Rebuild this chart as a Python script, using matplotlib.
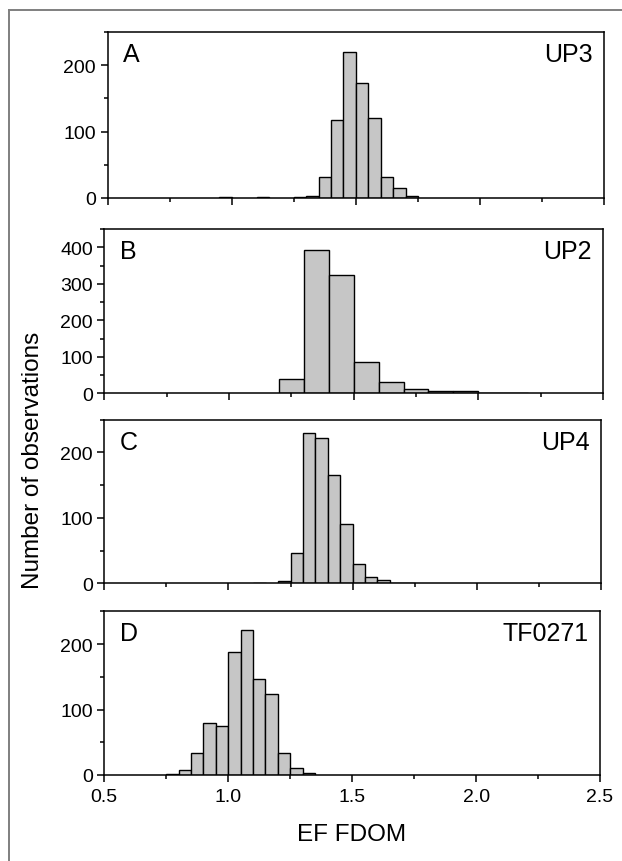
import matplotlib
matplotlib.use("Agg")
import matplotlib.pyplot as plt
from matplotlib.ticker import MultipleLocator
from matplotlib.lines import Line2D

plt.rcParams['font.family'] = ['Liberation Sans', 'DejaVu Sans']

# ---- data (bin left edges, bin widths, counts) ----
edges_A = [0.95, 1.10, 1.25, 1.30, 1.35, 1.40, 1.45, 1.50, 1.55, 1.60, 1.65, 1.70]
counts_A = [1, 1, 1, 2, 31, 117, 220, 173, 121, 31, 14, 3]
width_A = 0.05

edges_B = [1.2, 1.3, 1.4, 1.5, 1.6, 1.7, 1.8, 1.9, 2.0, 2.1]
counts_B = [38, 393, 323, 87, 30, 11, 5, 5, 1, 1]
width_B = 0.1

edges_C = [1.10, 1.20, 1.25, 1.30, 1.35, 1.40, 1.45, 1.50, 1.55, 1.60, 1.65, 1.70]
counts_C = [1, 3, 47, 230, 222, 165, 91, 29, 9, 5, 1, 1]
width_C = 0.05

edges_D = [0.75, 0.80, 0.85, 0.90, 0.95, 1.00, 1.05, 1.10, 1.15, 1.20, 1.25, 1.30]
counts_D = [2, 7, 33, 79, 75, 188, 221, 146, 123, 33, 11, 3]
width_D = 0.05

panel_letters = ["A", "B", "C", "D"]
site_names = ["UP3", "UP2", "UP4", "TF0271"]
y_max = [250, 450, 250, 250]
x_ticks = [0.5, 1.0, 1.5, 2.0, 2.5]
x_label = "EF FDOM"
y_label = "Number of observations"

W, H = 622, 862
fig = plt.figure(figsize=(W / 100, H / 100), dpi=100)

# axes boxes in pixels: left, right, top, bottom
boxes = [
    (107.5, 604.3, 33.3, 198.7),
    (104.3, 603.0, 230.0, 394.3),
    (104.3, 601.0, 420.7, 584.3),
    (104.3, 600.0, 612.3, 776.0),
]

data = [(edges_A, counts_A, width_A), (edges_B, counts_B, width_B),
        (edges_C, counts_C, width_C), (edges_D, counts_D, width_D)]

for i, ((l, r, t, b), (ed, ct, w)) in enumerate(zip(boxes, data)):
    ax = fig.add_axes([l / W, 1 - b / H, (r - l) / W, (b - t) / H])
    ax.bar(ed, ct, width=w, align='edge', color='#c6c6c6',
           edgecolor='black', linewidth=1.0)
    ax.set_xlim(0.5, 2.5)
    ax.set_ylim(0, y_max[i])
    ax.xaxis.set_major_locator(MultipleLocator(0.5))
    ax.xaxis.set_minor_locator(MultipleLocator(0.25))
    ax.yaxis.set_major_locator(MultipleLocator(100))
    ax.yaxis.set_minor_locator(MultipleLocator(50))
    for s in ax.spines.values():
        s.set_linewidth(1.1)
    ax.tick_params(axis='both', which='major', direction='out', length=4.8,
                   width=1.1, labelsize=14, top=False, right=False)
    ax.tick_params(axis='both', which='minor', direction='out', length=2.8,
                   width=1.1, top=False, right=False)
    ax.tick_params(axis='y', which='major', pad=3.5)
    ax.tick_params(axis='x', which='major', pad=4.5)
    if i < 3:
        ax.tick_params(axis='x', labelbottom=False)
    else:
        ax.set_xticks(x_ticks)
        ax.set_xticklabels([f"{v:.1f}" for v in x_ticks])
    ax.text(0.031, 0.866, panel_letters[i], transform=ax.transAxes,
            ha='left', va='center', fontsize=18)
    ax.text(0.977, 0.866, site_names[i], transform=ax.transAxes,
            ha='right', va='center', fontsize=18)

fig.text(352 / W, 1 - 835 / H, x_label, ha='center', va='center', fontsize=17.5)
fig.text(33 / W, 1 - 460 / H, y_label, ha='center', va='center',
         rotation=90, fontsize=17.5)

# outer grey frame (left and top edges visible)
fig.add_artist(Line2D([9 / W, 9 / W], [0, 1 - 11 / H], transform=fig.transFigure,
                      color='#7f7f7f', linewidth=1.4))
fig.add_artist(Line2D([9 / W, 1], [1 - 11 / H, 1 - 11 / H], transform=fig.transFigure,
                      color='#7f7f7f', linewidth=1.4))

fig.savefig("out.png", dpi=100, facecolor='white')
